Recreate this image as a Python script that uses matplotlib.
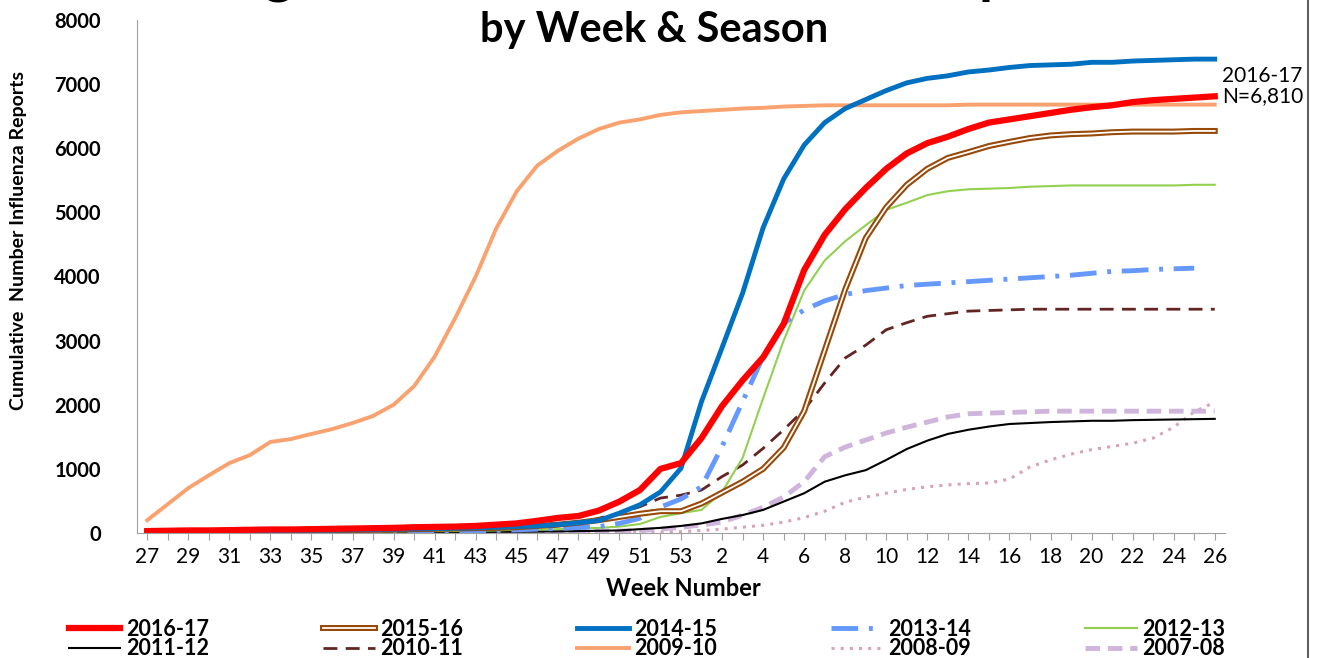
import numpy as np
import matplotlib
matplotlib.use("Agg")
import matplotlib.pyplot as plt
import matplotlib.patheffects as pe
from matplotlib.lines import Line2D

# week order of the flu season: 27..53 then 1..26
weeks = list(range(27, 54)) + list(range(1, 27))

s2016_17 = [30, 35, 40, 40, 45, 50, 55, 55, 60, 65, 70, 75, 80, 90, 95, 100, 110, 130, 150, 190, 235, 265, 350, 490, 670, 1000, 1090,
            1480, 1980, 2380, 2740, 3260, 4100, 4650, 5050, 5380, 5680, 5920, 6080, 6180, 6300, 6400, 6450, 6500, 6550, 6600, 6640, 6670, 6720, 6750, 6770, 6790, 6810]
s2015_16 = [10, 12, 14, 16, 18, 20, 25, 30, 35, 40, 45, 50, 55, 60, 65, 70, 75, 80, 90, 110, 130, 160, 200, 250, 300, 340, 340,
            460, 630, 800, 1000, 1330, 1900, 2850, 3800, 4600, 5080, 5430, 5680, 5850, 5940, 6035, 6100, 6160, 6200, 6220, 6230, 6250, 6260, 6260, 6260, 6270, 6270]
s2014_15 = [20, 25, 28, 30, 32, 35, 38, 40, 42, 45, 50, 55, 60, 65, 70, 75, 80, 90, 100, 110, 130, 160, 195, 310, 440, 640, 1010,
            2050, 2890, 3740, 4760, 5520, 6050, 6400, 6620, 6760, 6900, 7020, 7090, 7130, 7190, 7220, 7260, 7290, 7300, 7310, 7340, 7340, 7360, 7370, 7380, 7390, 7390]
s2013_14 = [5, 6, 7, 8, 9, 10, 12, 14, 16, 18, 20, 22, 24, 26, 28, 30, 35, 40, 50, 60, 70, 85, 100, 150, 230, 405, 530,
            720, 1350, 2050, 2750, 3270, 3480, 3620, 3720, 3780, 3820, 3860, 3880, 3900, 3920, 3940, 3960, 3980, 4000, 4020, 4050, 4080, 4090, 4110, 4120, 4130, np.nan]
s2012_13 = [5, 6, 7, 8, 9, 10, 12, 14, 16, 18, 20, 22, 24, 26, 28, 30, 35, 40, 50, 55, 60, 70, 80, 100, 140, 250, 310,
            360, 640, 1170, 2100, 3000, 3780, 4250, 4550, 4800, 5040, 5150, 5270, 5330, 5360, 5370, 5380, 5400, 5410, 5420, 5420, 5420, 5420, 5420, 5420, 5430, 5430]
s2011_12 = [3, 3, 4, 4, 5, 5, 6, 6, 7, 8, 9, 10, 11, 12, 13, 14, 16, 18, 20, 22, 25, 30, 35, 40, 60, 80, 110,
            150, 220, 280, 360, 490, 620, 800, 900, 980, 1140, 1310, 1440, 1545, 1610, 1660, 1700, 1715, 1730, 1740, 1750, 1750, 1760, 1765, 1770, 1775, 1780]
s2010_11 = [5, 6, 7, 8, 9, 10, 12, 14, 16, 18, 20, 25, 30, 35, 40, 45, 50, 60, 70, 85, 110, 150, 230, 310, 410, 545, 590,
            670, 880, 1060, 1320, 1610, 1920, 2340, 2730, 2930, 3170, 3280, 3380, 3420, 3460, 3470, 3480, 3490, 3490, 3490, 3490, 3490, 3490, 3490, 3490, 3490, 3490]
s2009_10 = [200, 450, 700, 900, 1090, 1215, 1420, 1465, 1545, 1620, 1715, 1825, 2000, 2290, 2750, 3350, 4000, 4750, 5330, 5730, 5960, 6150, 6300, 6400, 6450, 6520, 6560,
            6580, 6600, 6620, 6630, 6650, 6660, 6670, 6670, 6670, 6670, 6670, 6670, 6670, 6680, 6680, 6680, 6680, 6680, 6680, 6680, 6680, 6680, 6680, 6680, 6680, 6680]
s2008_09 = [2, 2, 3, 3, 3, 4, 4, 4, 5, 5, 5, 6, 6, 7, 7, 8, 8, 9, 10, 10, 11, 12, 13, 14, 15, 18, 20,
            40, 60, 90, 120, 170, 240, 340, 480, 560, 620, 680, 720, 750, 770, 780, 840, 1030, 1140, 1230, 1300, 1350, 1400, 1480, 1650, 1890, 2040]
s2007_08 = [5, 5, 6, 6, 7, 7, 8, 8, 9, 9, 10, 10, 11, 12, 13, 14, 15, 16, 18, 20, 22, 24, 26, 30, 40, 60, 90,
            125, 170, 280, 400, 560, 800, 1190, 1340, 1450, 1560, 1650, 1730, 1810, 1860, 1870, 1880, 1890, 1900, 1900, 1900, 1900, 1900, 1900, 1900, 1900, 1900]

plt.rcParams['font.family'] = ['Lato', 'DejaVu Sans']

W, H = 1318, 658
fig = plt.figure(figsize=(W / 100, H / 100), dpi=100)
ax = fig.add_axes([137 / W, 1 - 533 / H, 1088 / W, 513 / H])

x = np.arange(len(weeks))

h_1011, = ax.plot(x, s2010_11, color='#632523', lw=2, dashes=(5, 3))
h_0809, = ax.plot(x, s2008_09, color='#D9A3B5', lw=2.2, dashes=(1, 2))
h_0708, = ax.plot(x, s2007_08, color='#CFB4DC', lw=3.5, dashes=(3, 1.6))
h_1112, = ax.plot(x, s2011_12, color='black', lw=1.5)
h_1213, = ax.plot(x, s2012_13, color='#92D050', lw=1.5)
h_0910, = ax.plot(x, s2009_10, color='#F9A26F', lw=2.8)
h_1314, = ax.plot(x, s2013_14, color='#6699FF', lw=3.5, dashes=(5.5, 2.2, 0.8, 2.2))
h_1516, = ax.plot(x, s2015_16, color='white', lw=1.3,
                  path_effects=[pe.Stroke(linewidth=4.3, foreground='#984807'), pe.Normal()])
h_1415, = ax.plot(x, s2014_15, color='#0070C0', lw=3.5)
h_1617, = ax.plot(x, s2016_17, color='#FF0000', lw=4.5)

ax.set_xlim(-0.5, len(weeks) - 0.5)
ax.set_ylim(0, 8000)
ax.set_yticks(range(0, 8001, 1000))
ax.set_xticks(x)
ax.set_xticklabels([str(w) if i % 2 == 0 else '' for i, w in enumerate(weeks)], fontsize=15)
ax.tick_params(axis='x', length=5, color='#A0A0A0', pad=5)
ax.tick_params(axis='y', length=0, pad=26)
for lbl in ax.get_yticklabels():
    lbl.set_fontweight('bold')
    lbl.set_fontsize(14.5)

for s in ['top', 'right']:
    ax.spines[s].set_visible(False)
ax.spines['left'].set_color('#A0A0A0')
ax.spines['bottom'].set_color('#A0A0A0')

fig.text(683 / W, 1 - 589 / H, 'Week Number', fontsize=17, fontweight='bold', ha='center', va='center')
fig.text(19 / W, 1 - 240 / H, 'Cumulative  Number Influenza Reports', fontsize=14, fontweight='bold',
         rotation=90, ha='center', va='center', family=['Liberation Sans Narrow', 'Lato'])

fig.text(1222 / W, 1 - 86 / H, '2016-17\nN=6,810', fontsize=15, ha='left', va='center', linespacing=1.0)

# title (its first line runs off the top of the picture, only descenders show)
fig.text(654 / W, 1 - 42 / H, 'by Week & Season', fontsize=30, fontweight='bold', ha='center', va='baseline')
first = 'Michigan Cumulative Influenza Reports'
renderer = fig.canvas.get_renderer()
def text_width(s, size):
    t = fig.text(0, 0, s, fontsize=size, fontweight='bold')
    w = t.get_window_extent(renderer).width
    t.remove()
    return w
w_g = text_width(first[:first.index('g')], 20)
w_p = text_width(first[:first.index('p')], 20)
size1 = 20 * (978 - 264) / (w_p - w_g)
x_left = 264 - w_g * size1 / 20
fig.text(x_left / W, 1 + 8 / H, first, fontsize=size1, fontweight='bold', ha='left', va='baseline')

handles = [h_1617, h_1516, h_1415, h_1314, h_1213, h_1112, h_1011, h_0910, h_0809, h_0708]
labels = ['2016-17', '2015-16', '2014-15', '2013-14', '2012-13',
          '2011-12', '2010-11', '2009-10', '2008-09', '2007-08']
order = [0, 5, 1, 6, 2, 7, 3, 8, 4, 9]
fig.legend([handles[i] for i in order], [labels[i] for i in order], ncol=5,
           loc='center', bbox_to_anchor=(647 / W, 1 - 639 / H), frameon=False,
           prop={'weight': 'bold', 'size': 15.5}, handlelength=2.4, handletextpad=0.25,
           columnspacing=5.3, labelspacing=-0.05, borderpad=0)

fig.add_artist(Line2D([1308 / W, 1308 / W], [0, 1], color='#606060', lw=1.5,
                      transform=fig.transFigure))

fig.savefig('out.png', dpi=100)
